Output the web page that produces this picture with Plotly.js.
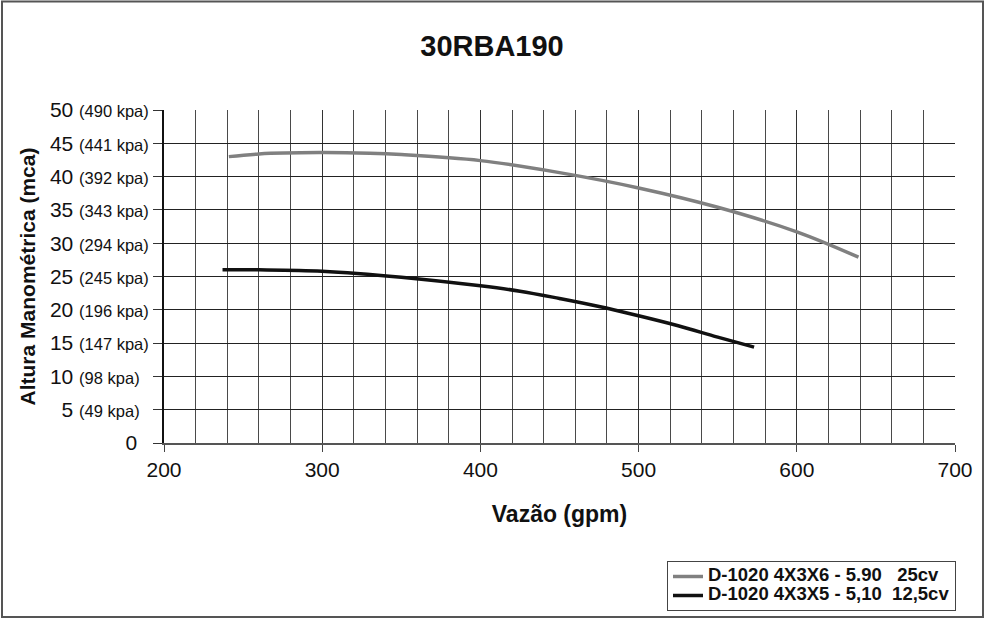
<!DOCTYPE html>
<html>
<head>
<meta charset="utf-8">
<script src="https://cdn.plot.ly/plotly-3.0.1.min.js"></script>
<style>
html,body{margin:0;padding:0;background:#fff;}
#chart{width:984px;height:619px;}
</style>
</head>
<body>
<div id="chart"></div>
<script>
// Series 1: D-1020 4X3X6 - 5.90 25cv (gray)
const flowA = [241, 260, 298, 330, 350, 400, 450, 500, 550, 600, 639];
const headA = [43.0, 43.4, 43.6, 43.5, 43.3, 42.4, 40.6, 38.3, 35.4, 31.7, 27.9];
// Series 2: D-1020 4X3X5 - 5,10 12,5cv (black)
const flowB = [237, 260, 300, 350, 400, 425, 450, 475, 500, 525, 550, 573];
const headB = [26.0, 26.0, 25.8, 24.9, 23.6, 22.8, 21.7, 20.5, 19.1, 17.6, 15.9, 14.4];

const nameA = "<b>D-1020 4X3X6 - 5.90&nbsp;&nbsp;&nbsp;25cv</b>";
const nameB = "<b>D-1020 4X3X5 - 5,10&nbsp;&nbsp;12,5cv</b>";

const yTickVals = [0, 5, 10, 15, 20, 25, 30, 35, 40, 45, 50];
const yTickMca  = ["0", "5", "10", "15", "20", "25", "30", "35", "40", "45", "50"];
const yTickKpa  = ["", "49", "98", "147", "196", "245", "294", "343", "392", "441", "490"];

const yTickText = yTickMca.map((m, i) => {
  if (yTickKpa[i] === "") return m + "&nbsp;&nbsp;";
  const pad = yTickKpa[i].length < 3 ? "&nbsp;&nbsp;" : "";
  return m + " <span style=\"font-size:16.5px\">(" + yTickKpa[i] + " kpa)" + pad + "</span>";
});

const legendSpan = s => "<span style=\"font-size:18.5px\">" + s + "</span>";

const traces = [
  {x: flowA, y: headA, name: legendSpan(nameA), mode: "lines", type: "scatter",
   line: {color: "#808080", width: 3.5, shape: "spline", smoothing: 1}},
  {x: flowB, y: headB, name: legendSpan(nameB), mode: "lines", type: "scatter",
   line: {color: "#111111", width: 3.5, shape: "spline", smoothing: 1}}
];

const M = {l: 164, r: 29, t: 110, b: 176, autoexpand: false};
const PW = 984 - M.l - M.r, PH = 619 - M.t - M.b;

const layout = {
  width: 984, height: 619,
  margin: M,
  paper_bgcolor: "#ffffff", plot_bgcolor: "#ffffff",
  font: {family: "Liberation Sans, Arial, sans-serif", color: "#111"},
  title: {text: "<b>30RBA190</b>", x: 0.5, xanchor: "center", y: 1 - 46/619, yanchor: "middle",
          font: {size: 29, family: "Liberation Sans, Arial, sans-serif", color: "#111"}},
  xaxis: {
    range: [200, 700], dtick: 100, tick0: 200,
    showline: true, linecolor: "#555", linewidth: 2,
    ticks: "outside", ticklen: 7, tickcolor: "#444", tickwidth: 1,
    showgrid: true, gridcolor: "#333", gridwidth: 1,
    minor: {dtick: 20, showgrid: true, gridcolor: "#4a4a4a", gridwidth: 1, ticks: ""},
    tickfont: {size: 21, color: "#111"},
    zeroline: false, fixedrange: true, automargin: false,
    title: {text: "<b>Vazão (gpm)</b>", font: {size: 23, color: "#111"}, standoff: 26}
  },
  yaxis: {
    range: [0, 50], tickmode: "array", tickvals: yTickVals, ticktext: yTickText,
    showline: true, linecolor: "#111", linewidth: 2,
    ticks: "outside", ticklen: 9, tickcolor: "#333", tickwidth: 1,
    showgrid: true, gridcolor: "#222", gridwidth: 1,
    tickfont: {size: 21, color: "#111"},
    zeroline: false, fixedrange: true, automargin: false,
    title: {text: "<b>Altura Manométrica (mca)</b>", font: {size: 21, color: "#111"}, standoff: 9}
  },
  showlegend: true,
  legend: {
    x: (667 - M.l) / PW, xanchor: "left",
    y: (443 - 586) / PH, yanchor: "middle",
    bgcolor: "#fff", bordercolor: "#444", borderwidth: 1,
    font: {size: 12, family: "Liberation Sans Narrow, Liberation Sans, Arial, sans-serif", color: "#111"},
    tracegroupgap: 0, itemwidth: 30
  },
  shapes: [{
    type: "rect", xref: "paper", yref: "paper",
    x0: (2 - M.l) / PW, x1: (983 - M.l) / PW,
    y0: (443 - 617) / PH, y1: (443 - 1.5) / PH,
    line: {color: "#555", width: 2}, fillcolor: "rgba(0,0,0,0)", layer: "below"
  }]
};

Plotly.newPlot("chart", traces, layout, {displayModeBar: false, staticPlot: true});
</script>
</body>
</html>
